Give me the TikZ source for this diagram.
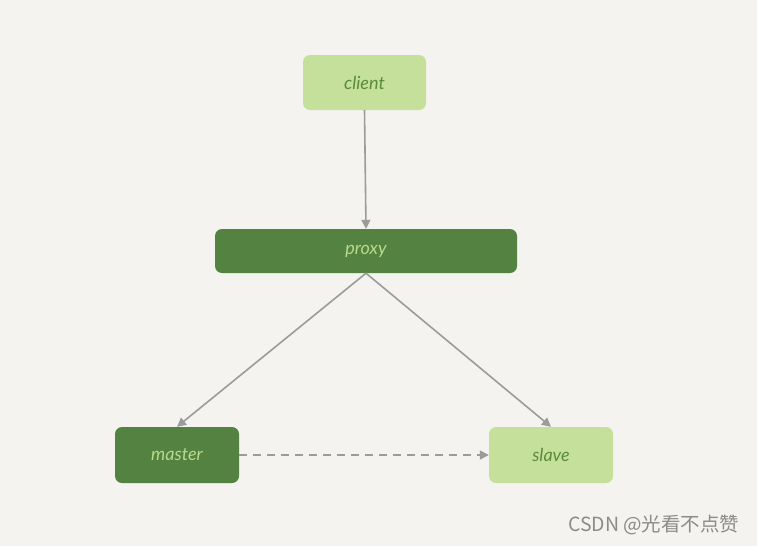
\documentclass[tikz,border=0pt]{standalone}
\usepackage{fontspec}
\setmainfont{Lato}
\newfontfamily\cjk{Noto Sans CJK SC}
\usetikzlibrary{arrows.meta}
\definecolor{bg}{HTML}{F4F3EF}
\definecolor{lightg}{HTML}{C5E09B}
\definecolor{darkg}{HTML}{548241}
\definecolor{txtdark}{HTML}{5B8A3C}
\definecolor{txtlight}{HTML}{B8DA8C}
\definecolor{edgeg}{HTML}{9B9B9B}
\begin{document}
\begin{tikzpicture}[x=1pt, y=-1pt,
		light/.style = {fill=lightg, text=txtdark, rounded corners=7pt, font=\itshape\fontsize{18}{20}\selectfont},
		dark/.style = {fill=darkg, text=txtlight, rounded corners=7pt, font=\itshape\fontsize{18}{20}\selectfont},
		link/.style = {draw=edgeg, line width=1.6pt, -{Triangle[length=9pt, width=9pt]}}]
		\fill[bg] (0,0) rectangle (757,546);
		\useasboundingbox (0,0) rectangle (757,546);
		\node[light, minimum width=123pt, minimum height=55pt] (client) at (364.5,82.5) {client};
		\node[dark, minimum width=302pt, minimum height=44pt] (proxy) at (366,251) {proxy};
		\node[dark, minimum width=124pt, minimum height=56pt] (master) at (177,455) {master};
		\node[light, minimum width=124pt, minimum height=56pt] (slave) at (551,455) {slave};
		\draw[link] (client.south) -- (proxy.north);
		\draw[link] (proxy.south) -- (master.north);
		\draw[link] (proxy.south) -- (slave.north);
		\draw[link, dashed, dash pattern=on 8pt off 6pt] (master.east) -- (slave.west);
		\node[anchor=east, text=edgeg!90!black, font=\cjk\fontsize{19.5}{22}\selectfont] (mark) at (743,525) {CSDN @光看不点赞};
	\end{tikzpicture}
\end{document}
